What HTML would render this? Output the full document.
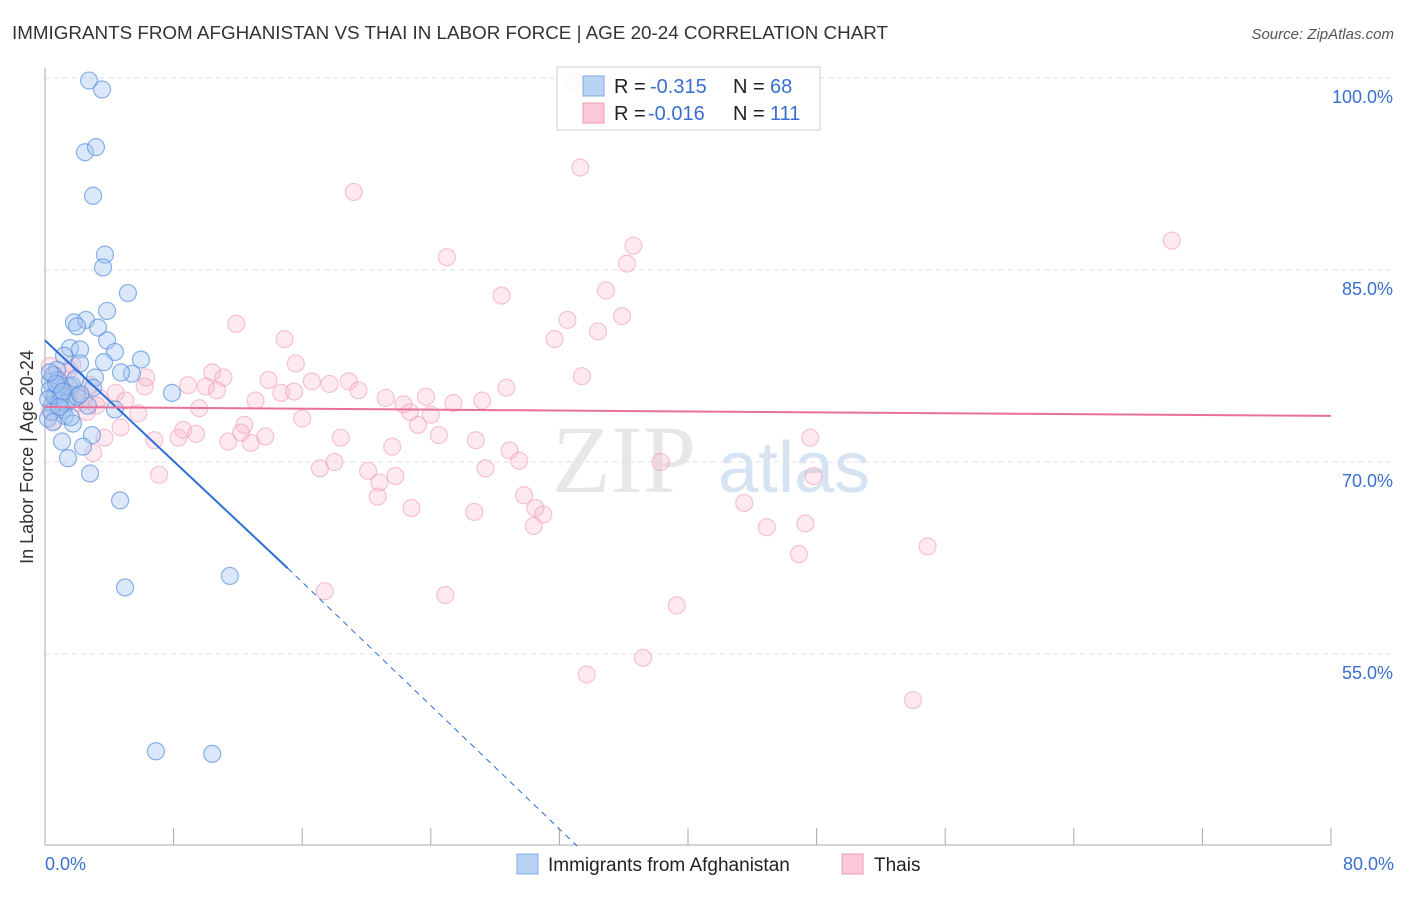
<!DOCTYPE html>
<html><head><meta charset="utf-8"><style>
body{margin:0;background:#fff;width:1406px;height:892px;overflow:hidden;font-family:"Liberation Sans",sans-serif}
</style></head><body>
<svg id="chart" width="1406" height="892" xmlns="http://www.w3.org/2000/svg" font-family="Liberation Sans, sans-serif">
<text x="12" y="39" font-size="18" fill="#333" textLength="876" lengthAdjust="spacingAndGlyphs">IMMIGRANTS FROM AFGHANISTAN VS THAI IN LABOR FORCE | AGE 20-24 CORRELATION CHART</text>
<text x="1394" y="39" font-size="15" fill="#555" font-style="italic" text-anchor="end">Source: ZipAtlas.com</text>
<text x="552" y="492" font-size="96" fill="#ddd" font-family="Liberation Serif, serif" opacity="0.7">ZIP</text>
<text x="718" y="492" font-size="72" fill="#c5d8ee" opacity="0.7">atlas</text>
<text transform="translate(33,457) rotate(-90)" font-size="18" fill="#333" text-anchor="middle">In Labor Force | Age 20-24</text>
<g id="grid"></g><g id="axes"></g><g id="pts"></g><g id="lines"></g>
<g>
<rect x="557" y="67" width="263" height="63" fill="#fff" fill-opacity="0.85" stroke="#ccc"/>
<rect x="583" y="76" width="21" height="20" fill="#b9d3f5" stroke="#7fa9e0"/>
<rect x="583" y="103" width="21" height="20" fill="#fcc7d7" stroke="#ee9bb6"/>
<text x="614" y="93" font-size="20" fill="#222">R =</text>
<text x="650" y="93" font-size="20" fill="#3a6fd0">-0.315</text>
<text x="733" y="93" font-size="20" fill="#222">N =</text>
<text x="770" y="93" font-size="20" fill="#3a6fd0">68</text>
<text x="614" y="120" font-size="20" fill="#222">R =</text>
<text x="648" y="120" font-size="20" fill="#3a6fd0">-0.016</text>
<text x="733" y="120" font-size="20" fill="#222">N =</text>
<text x="770" y="120" font-size="20" fill="#3a6fd0">111</text>
</g>
<g>
<rect x="517" y="854" width="21" height="20" fill="#b9d3f5" stroke="#7fa9e0"/>
<text x="548" y="871" font-size="19" fill="#222">Immigrants from Afghanistan</text>
<rect x="842" y="854" width="21" height="20" fill="#fcc7d7" stroke="#ee9bb6"/>
<text x="874" y="871" font-size="19" fill="#222">Thais</text>
</g>
</svg>
<script>
const yTicks=[100,85,70,55];
const xTickLabels=["0.0%","80.0%"];
const blueX=[2.74,3.55,2.49,3.17,2.99,3.73,3.61,5.16,3.86,1.80,2.55,1.99,3.30,3.86,1.56,2.18,4.35,1.18,5.97,3.67,2.18,5.41,4.73,0.75,3.11,0.31,0.93,2.99,1.68,7.9,0.62,1.43,0.44,2.67,1.12,4.35,0.19,1.24,1.74,2.92,1.06,2.36,1.43,2.80,4.67,4.98,11.5,6.9,10.4,0.6,0.9,0.3,1.5,0.5,1.0,0.2,0.8,1.3,2.0,0.4,1.6,0.7,1.1,0.3,2.2,0.9,0.5,1.9];
const blueY=[99.8,99.1,94.2,94.6,90.8,86.2,85.2,83.2,81.8,80.9,81.1,80.6,80.5,79.5,78.9,78.8,78.6,78.3,78.0,77.8,77.7,76.9,77.0,77.2,76.6,76.3,76.0,75.8,76.0,75.4,75.0,74.8,74.5,74.4,74.1,74.1,73.4,73.6,73.0,72.1,71.6,71.2,70.3,69.1,67.0,60.2,61.1,47.4,47.2,75.2,74.7,75.6,75.9,76.8,75.3,74.9,76.4,74.6,75.1,73.9,73.5,76.1,75.5,77.0,75.3,74.3,73.1,76.5];
const pinkX=[32.9,39.9,43.2,33.3,19.2,70.1,36.6,25.0,36.2,28.4,34.9,32.5,11.9,35.9,34.4,14.9,31.7,15.6,10.4,0.3,33.4,6.3,11.1,13.9,18.9,16.6,17.7,8.9,10.0,6.2,10.7,28.7,19.5,14.7,4.4,15.5,21.2,23.7,27.2,25.4,13.1,5.0,3.4,22.3,9.6,22.7,24.0,2.6,5.8,16.0,23.2,12.4,4.7,8.6,13.7,12.2,24.5,9.4,6.8,8.3,3.7,11.4,12.8,18.4,26.8,47.6,21.6,28.9,3.0,29.5,38.3,18.0,27.4,17.1,20.1,7.1,21.8,47.8,20.8,20.7,29.8,43.5,22.8,30.5,26.7,31.0,30.4,44.9,47.3,54.9,46.9,17.4,24.9,39.3,37.2,33.7,54.0,0.6,1.2,0.8,1.9,1.0,2.2,0.3,1.5,2.8,0.5,1.7,2.4,0.9,3.2,1.3];
const pinkY=[99.8,99.8,99.8,93.0,91.1,87.3,86.9,86.0,85.5,83.0,83.4,81.1,80.8,81.4,80.2,79.6,79.6,77.7,77.0,77.5,76.7,76.6,76.6,76.4,76.3,76.3,76.1,76.0,75.9,75.9,75.6,75.8,75.6,75.4,75.4,75.5,75.0,75.1,74.8,74.6,74.8,74.8,75.0,74.5,74.2,73.9,73.7,73.9,73.8,73.4,72.9,72.9,72.7,72.5,72.0,72.3,72.1,72.2,71.7,71.9,71.9,71.6,71.5,71.9,71.7,71.9,71.2,70.9,70.7,70.1,70.0,70.0,69.5,69.5,69.3,69.0,68.9,68.9,68.4,67.3,67.4,66.8,66.4,66.4,66.1,65.9,65.0,64.9,65.2,63.4,62.8,59.9,59.6,58.8,54.7,53.4,51.4,76.8,76.4,75.8,75.5,75.0,74.6,74.1,77.2,76.0,73.2,77.6,74.9,76.2,74.4,75.3];
const blueFit=[[0,79.5],[15.1,61.7],[33.1,40.0]];
const pinkFit=[[0,74.3],[80,73.6]];
const X=v=>45+v/80*1286, Y=v=>78+(100-v)*12.8;
const NS="http://www.w3.org/2000/svg";
function mk(tag,attrs,parent){const e=document.createElementNS(NS,tag);for(const k in attrs)e.setAttribute(k,attrs[k]);parent.appendChild(e);return e;}
const grid=document.getElementById('grid'),axes=document.getElementById('axes'),pts=document.getElementById('pts'),lines=document.getElementById('lines');
yTicks.forEach(t=>{const l=mk('line',{x1:45,x2:1394,y1:Y(t),y2:Y(t),stroke:'#e2e2e2','stroke-dasharray':'5,4'},grid);


const tx=mk('text',{x:1393,y:Y(t)+25,'font-size':18,fill:'#3a6fd0','text-anchor':'end'},axes);tx.textContent=t.toFixed(1)+'%';

});
const ax=mk('line',{x1:45,x2:45,y1:68,y2:845,stroke:'#aaa'},axes);


const bx=mk('line',{x1:45,x2:1331,y1:845,y2:845,stroke:'#aaa'},axes);


for(let i=0;i<=10;i++){const t=mk('line',{x1:X(i*8),x2:X(i*8),y1:828,y2:845,stroke:'#aaa'},axes);

}
xTickLabels.forEach((s,i)=>{const t=mk('text',{x:i?1394:45,y:870,'font-size':18,fill:'#3a6fd0','text-anchor':i?'end':'start'},axes);t.textContent=s;

});
pinkX.forEach((v,i)=>{const c=mk('circle',{cx:X(v),cy:Y(pinkY[i]),r:8.5,fill:'#f9b6cb','fill-opacity':0.3,stroke:'#f0a0bb','stroke-opacity':0.6,'stroke-width':1.2},pts);

});
blueX.forEach((v,i)=>{const c=mk('circle',{cx:X(v),cy:Y(blueY[i]),r:8.5,fill:'#a4c6f0','fill-opacity':0.4,stroke:'#5b92e0','stroke-opacity':0.7,'stroke-width':1.2},pts);

});
const b1=mk('line',{x1:X(blueFit[0][0]),y1:Y(blueFit[0][1]),x2:X(blueFit[1][0]),y2:Y(blueFit[1][1]),stroke:'#2c6fd6','stroke-width':2},lines);


const b2=mk('line',{x1:X(blueFit[1][0]),y1:Y(blueFit[1][1]),x2:X(blueFit[2][0]),y2:Y(blueFit[2][1]),stroke:'#2c6fd6','stroke-width':1,'stroke-dasharray':'6,5'},lines);


const p1=mk('line',{x1:X(pinkFit[0][0]),y1:Y(pinkFit[0][1]),x2:X(pinkFit[1][0]),y2:Y(pinkFit[1][1]),stroke:'#e8709a','stroke-width':2},lines);


</script>
</body></html>
